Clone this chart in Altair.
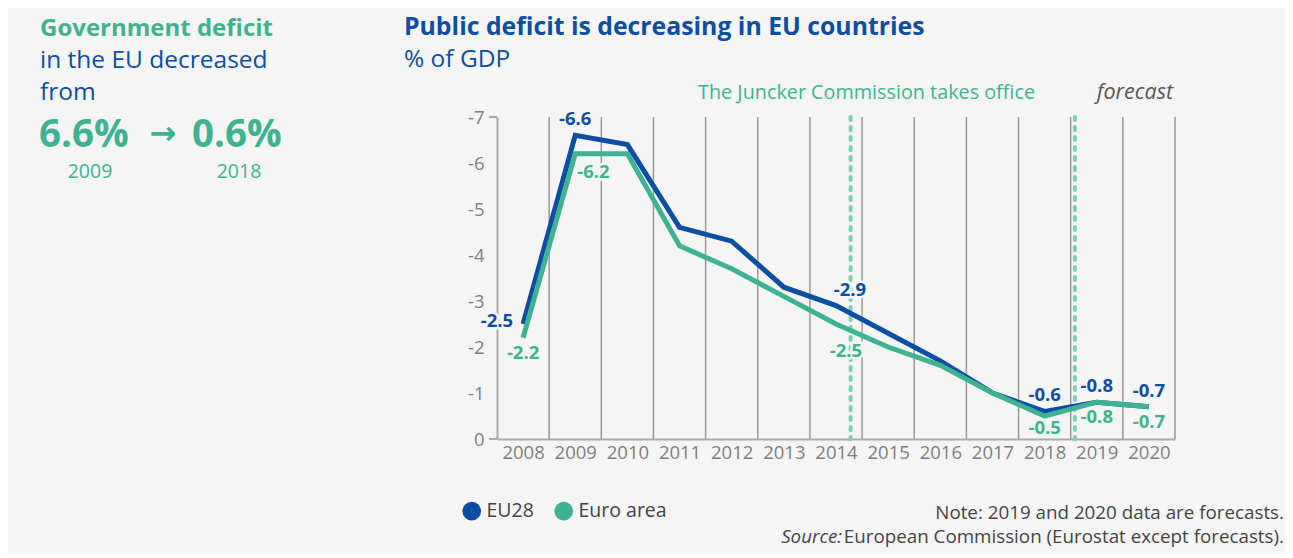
import altair as alt
import pandas as pd

# ---------------- data ----------------
years = [2008, 2009, 2010, 2011, 2012, 2013, 2014, 2015, 2016, 2017, 2018, 2019, 2020]
eu28 = [-2.5, -6.6, -6.4, -4.6, -4.3, -3.3, -2.9, -2.3, -1.7, -1.0, -0.6, -0.8, -0.7]
euro_area = [-2.2, -6.2, -6.2, -4.2, -3.7, -3.1, -2.5, -2.0, -1.6, -1.0, -0.5, -0.8, -0.7]
series_names = ["EU28", "Euro area"]
event_marks = [2014.28, 2018.58]          # Juncker Commission / start of forecast
band_edges = [2008.5, 2009.5, 2010.5, 2011.5, 2012.5, 2013.5, 2014.5,
              2015.5, 2016.5, 2017.5, 2018.5, 2019.5, 2020.5]
y_ticks = [0, -1, -2, -3, -4, -5, -6, -7]
y_end_ticks = [0, -7]

BLUE = "#0b4ea2"
TEAL = "#3fb391"
TEAL_LIGHT = "#7dcfb3"
GRID = "#9a9a9a"
AXIS = "#ababab"
LABEL = "#7f7f7f"
TXT = "#444444"
BG = "#f5f5f5"
FONT = "Open Sans"

# plot origin (page coords)
OX, OY = 497, 117
W, H = 678, 322

df = pd.DataFrame({
    "year": years * 2,
    "value": eu28 + euro_area,
    "series": [series_names[0]] * len(years) + [series_names[1]] * len(years),
})
legend_df = pd.DataFrame({"name": series_names})

xscale = alt.Scale(domain=[2007.5, 2020.5], nice=False, zero=False)
yscale = alt.Scale(domain=[-7, 0], nice=False, reverse=True)
# domain taken from the data (sorted: EU28, Euro area)
cscale = alt.Scale(range=[BLUE, TEAL])

base = alt.Chart(df)

grid = alt.Chart(pd.DataFrame({"edge": band_edges})).mark_rule(
    color=GRID, strokeWidth=1.5
).encode(
    x=alt.X("edge:Q", scale=xscale),
    y=alt.datum(-7, scale=yscale),
    y2=alt.datum(0),
)

yend = alt.Chart(pd.DataFrame({"v": y_end_ticks})).mark_rule(
    color=AXIS, strokeWidth=2
).encode(
    y=alt.Y("v:Q", scale=yscale),
    x=alt.value(-8),
    x2=alt.value(0),
)

dots = alt.Chart(pd.DataFrame({"ev": event_marks})).mark_rule(
    color=TEAL_LIGHT, strokeWidth=4, strokeDash=[3, 7], strokeCap="round"
).encode(
    x=alt.X("ev:Q", scale=xscale),
    y=alt.datum(-7, scale=yscale),
    y2=alt.datum(0),
)

lines = base.mark_line(strokeWidth=5, strokeJoin="miter").encode(
    x=alt.X(
        "year:Q", scale=xscale,
        axis=alt.Axis(
            values=years, format="d", title=None, grid=False, ticks=False,
            domainColor=AXIS, domainWidth=2, labelColor=LABEL, labelFontSize=18.5,
            labelFont=FONT, labelPadding=4, labelFlush=False,
        ),
    ),
    y=alt.Y(
        "value:Q", scale=yscale,
        axis=alt.Axis(
            values=y_ticks, title=None, grid=False, ticks=False,
            domainColor=AXIS, domainWidth=2, labelColor=LABEL, labelFontSize=18.5,
            labelFont=FONT, labelPadding=13,
            labelExpr="'' + datum.value",
        ),
    ),
    color=alt.Color("series:N", scale=cscale, legend=None),
    order=alt.Order("series:N", sort="descending"),
)

# legend-only layer: its own circles sit outside the drawing, only the legend shows
legend_layer = alt.Chart(legend_df).mark_circle(opacity=1, size=346).encode(
    x=alt.value(-3000),
    y=alt.value(-3000),
    fill=alt.Fill(
        "name:N", scale=alt.Scale(domain=series_names, range=[BLUE, TEAL]),
        legend=alt.Legend(
            title=None, orient="none", legendX=462 - OX, legendY=501 - OY,
            direction="horizontal", symbolType="circle", symbolSize=346,
            symbolOpacity=1, symbolStrokeWidth=0, labelFontSize=19.5,
            labelColor=TXT, labelFont=FONT, labelOffset=5, columnPadding=20,
            padding=0,
        ),
    ),
)

label_text = "replace(format(datum.value, '.1f'), '\u2212', '-')"


def value_labels(series, yrs, color, dx=0, dy=0, align="center"):
    out = []
    cond = "datum.series == '%s' && indexof([%s], datum.year) >= 0" % (
        series, ",".join(str(y) for y in yrs))
    for halo in (True, False):
        props = dict(fontSize=18.5, fontWeight="bold", font=FONT, align=align,
                     baseline="middle", dx=dx, dy=dy)
        if halo:
            props.update(color=BG, stroke=BG, strokeWidth=5)
        else:
            props.update(color=color)
        ch = base.transform_filter(cond).transform_calculate(lbl=label_text).mark_text(**props).encode(
            x=alt.X("year:Q", scale=xscale),
            y=alt.Y("value:Q", scale=yscale),
            text="lbl:N",
        )
        out.append(ch)
    return out


labels = []
labels += value_labels("EU28", [2009, 2018, 2019, 2020], BLUE, dy=-16)
labels += value_labels("EU28", [2014], BLUE, dx=14, dy=-16)
labels += value_labels("EU28", [2008], BLUE, dx=-10, dy=-3, align="right")
labels += value_labels("Euro area", [2008, 2019, 2020], TEAL, dy=15)
labels += value_labels("Euro area", [2018], TEAL, dy=12)
labels += value_labels("Euro area", [2014], TEAL, dx=10, dy=27)
labels += value_labels("Euro area", [2009], TEAL, dx=2, dy=18, align="left")


def txt(s, x, y, size, color, weight="normal", style="normal", align="left", font=FONT):
    return alt.Chart(alt.Data(values=[{}])).mark_text(
        text=s, align=align, baseline="middle", fontSize=size, color=color,
        fontWeight=weight, fontStyle=style, font=font,
    ).encode(x=alt.value(x - OX), y=alt.value(y - OY))


texts = [
    txt("Government deficit", 40, 29, 24, TEAL, weight="bold"),
    txt("in the EU decreased", 40, 61, 24.5, BLUE),
    txt("from", 40, 93, 24.5, BLUE),
    txt("6.6%", 39, 135, 38.5, TEAL, weight="bold"),
    txt("\u2192", 163, 134, 32, TEAL, weight="bold", align="center", font="DejaVu Sans"),
    txt("0.6%", 192, 135, 38.5, TEAL, weight="bold"),
    txt("2009", 90, 172, 19.5, TEAL, align="center"),
    txt("2018", 239, 172, 19.5, TEAL, align="center"),
    txt("Public deficit is decreasing in EU countries", 404, 28, 24.8, BLUE, weight="bold"),
    txt("% of GDP", 404, 60, 24.5, BLUE),
    txt("The Juncker Commission takes office", 1035, 93, 19.8, TEAL, align="right"),
    txt("forecast", 1173, 93, 21.5, "#555555", style="italic", align="right"),
    txt("Note: 2019 and 2020 data are forecasts.", 1284, 513, 18.8, TXT, align="right"),
    txt("Source:", 842, 537, 18.8, TXT, style="italic", align="right"),
    txt("European Commission (Eurostat except forecasts).", 1284, 537, 18.8, TXT, align="right"),
]

TOTAL_W, TOTAL_H = 1277, 545
chart = alt.layer(grid, yend, dots, lines, legend_layer, *labels, *texts).properties(
    width=W, height=H,
    autosize=alt.AutoSizeParams(type="none"),
    padding={"left": OX - 8, "top": OY - 8, "right": TOTAL_W - (OX - 8) - W,
             "bottom": TOTAL_H - (OY - 8) - H},
    background=BG,
).configure_view(stroke=None)

chart.save("out.html", embed_options={"renderer": "svg", "actions": False})
